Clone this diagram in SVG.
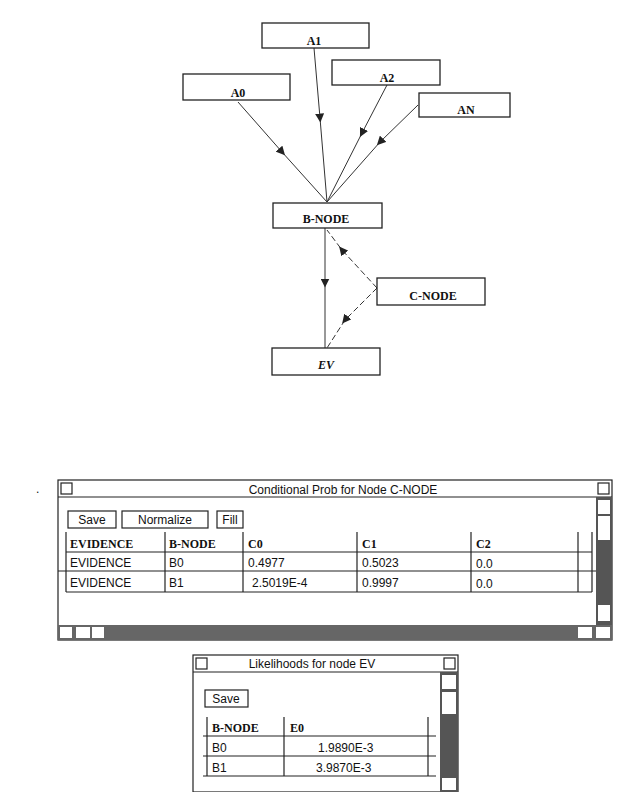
<svg xmlns="http://www.w3.org/2000/svg" width="640" height="792" viewBox="0 0 640 792">
<defs>
<style>
.n{fill:#fff;stroke:#222;stroke-width:1.3}
.t{font-family:"Liberation Serif",serif;font-size:12px;fill:#111;text-anchor:middle;font-weight:bold}
.l{stroke:#333;stroke-width:1;fill:none}
.d{stroke:#333;stroke-width:1;fill:none;stroke-dasharray:6,3}
.s{font-family:"Liberation Sans",sans-serif;font-size:12px;fill:#111}
.h{font-family:"Liberation Serif",serif;font-size:12px;font-weight:bold;fill:#111}
.g{stroke:#222;stroke-width:1.2;fill:none}
</style>
<marker id="a" viewBox="0 0 10 10" refX="5" refY="5" markerWidth="9" markerHeight="9" orient="auto"><path d="M0,0L10,5L0,10z" fill="#222"/></marker>
</defs>
<rect width="640" height="792" fill="#fff"/>
<g id="connectors">
<path class="l" d="M238,102L282,152L327,202" marker-mid="url(#a)"/>
<path class="l" d="M314,48L320,118L327,202" marker-mid="url(#a)"/>
<path class="l" d="M387,85L362,133L327,202" marker-mid="url(#a)"/>
<path class="l" d="M418,105L380,142L327,202" marker-mid="url(#a)"/>
<path class="l" d="M325,228L325,283L325,348" marker-mid="url(#a)"/>
<path class="d" d="M377,288L342,250L327,230" marker-mid="url(#a)"/>
<path class="d" d="M377,288L345,320L327,348" marker-mid="url(#a)"/>
</g>
<g id="A1"><rect class="n" x="262" y="23" width="107" height="25"/><text class="t" x="314" y="45">A1</text></g>
<g id="A2"><rect class="n" x="332" y="60" width="108" height="25"/><text class="t" x="387" y="82">A2</text></g>
<g id="A0"><rect class="n" x="183" y="74" width="107" height="26"/><text class="t" x="238" y="97">A0</text></g>
<g id="AN"><rect class="n" x="419" y="93" width="91" height="24"/><text class="t" x="466" y="114">AN</text></g>
<g id="B-NODE"><rect class="n" x="273" y="203" width="109" height="25"/><text class="t" x="326" y="223">B-NODE</text></g>
<g id="C-NODE"><rect class="n" x="377" y="278" width="108" height="27"/><text class="t" x="433" y="300">C-NODE</text></g>
<g id="EV"><rect class="n" x="272" y="348" width="108" height="27"/><text class="t" x="326" y="369" font-style="italic" font-weight="normal" font-family="Liberation Sans,sans-serif" font-size="11">EV</text></g>
<text class="s" x="36" y="493">.</text>
<g id="win1">
<rect class="g" x="58" y="480" width="554" height="160" fill="#fff"/>
<line class="g" x1="58" y1="497" x2="612" y2="497"/>
<rect class="g" x="61" y="483" width="11" height="11"/>
<rect class="g" x="598" y="483" width="11" height="11"/>
<text class="s" x="343" y="494" text-anchor="middle" font-size="11">Conditional Prob for Node C-NODE</text>
<rect x="596" y="497" width="16" height="128" fill="#555"/>
<rect x="598" y="500" width="12" height="14" fill="#fff"/>
<rect x="598" y="516" width="12" height="24" fill="#fff"/>
<rect x="598" y="605" width="12" height="16" fill="#fff"/>
<rect x="58" y="625" width="554" height="15" fill="#666"/>
<rect x="60" y="627" width="12" height="11" fill="#fff"/>
<rect x="76" y="627" width="14" height="11" fill="#fff"/>
<rect x="92" y="627" width="12" height="11" fill="#fff"/>
<rect x="578" y="627" width="14" height="11" fill="#fff"/>
<rect x="596" y="627" width="14" height="11" fill="#fff"/>
<rect class="g" x="68" y="511" width="48" height="17"/><text class="s" x="92" y="524" text-anchor="middle" font-size="10">Save</text>
<rect class="g" x="122" y="511" width="86" height="17"/><text class="s" x="165" y="524" text-anchor="middle" font-size="10">Normalize</text>
<rect class="g" x="217" y="511" width="26" height="17"/><text class="s" x="230" y="524" text-anchor="middle" font-size="10">Fill</text>
<line class="g" x1="66" y1="552" x2="592" y2="552"/>
<line class="g" x1="58" y1="571" x2="596" y2="571" stroke-width="1.8"/>
<line class="g" x1="66" y1="592" x2="592" y2="592"/>
<line class="g" x1="66" y1="532" x2="66" y2="592"/>
<line class="g" x1="165" y1="532" x2="165" y2="592"/>
<line class="g" x1="243" y1="532" x2="243" y2="592"/>
<line class="g" x1="357" y1="532" x2="357" y2="592"/>
<line class="g" x1="471" y1="532" x2="471" y2="592"/>
<line class="g" x1="578" y1="532" x2="578" y2="592"/>
<line class="g" x1="592" y1="532" x2="592" y2="592"/>
<text class="h" x="70" y="548">EVIDENCE</text><text class="h" x="169" y="548">B-NODE</text><text class="h" x="248" y="548">C0</text><text class="h" x="362" y="548">C1</text><text class="h" x="476" y="548">C2</text>
<text class="s" x="70" y="567">EVIDENCE</text><text class="s" x="169" y="567">B0</text><text class="s" x="248" y="567">0.4977</text><text class="s" x="362" y="567">0.5023</text><text class="s" x="476" y="568">0.0</text>
<text class="s" x="70" y="587">EVIDENCE</text><text class="s" x="169" y="587">B1</text><text class="s" x="252" y="587">2.5019E-4</text><text class="s" x="362" y="587">0.9997</text><text class="s" x="476" y="588">0.0</text>
</g>
<g id="win2">
<rect class="g" x="193" y="655" width="265" height="137" fill="#fff"/>
<line class="g" x1="193" y1="672" x2="458" y2="672"/>
<rect class="g" x="196" y="658" width="11" height="11"/>
<rect class="g" x="444" y="658" width="11" height="11"/>
<text class="s" x="312" y="668" text-anchor="middle" font-size="10">Likelihoods for node EV</text>
<rect x="440" y="672" width="18" height="120" fill="#555"/>
<rect x="442" y="675" width="14" height="14" fill="#fff"/>
<rect x="442" y="692" width="14" height="22" fill="#fff"/>
<rect x="442" y="778" width="14" height="12" fill="#fff"/>
<rect class="g" x="205" y="690" width="43" height="17"/><text class="s" x="226" y="703" text-anchor="middle" font-size="10">Save</text>
<line class="g" x1="203" y1="736" x2="436" y2="736"/>
<line class="g" x1="203" y1="756" x2="436" y2="756"/>
<line class="g" x1="203" y1="776" x2="436" y2="776"/>
<line class="g" x1="207" y1="717" x2="207" y2="776"/>
<line class="g" x1="284" y1="717" x2="284" y2="776"/>
<line class="g" x1="428" y1="717" x2="428" y2="776"/>
<text class="h" x="212" y="732">B-NODE</text><text class="h" x="290" y="732">E0</text>
<text class="s" x="212" y="752">B0</text><text class="s" x="318" y="752">1.9890E-3</text>
<text class="s" x="212" y="772">B1</text><text class="s" x="316" y="772">3.9870E-3</text>
</g>
</svg>
